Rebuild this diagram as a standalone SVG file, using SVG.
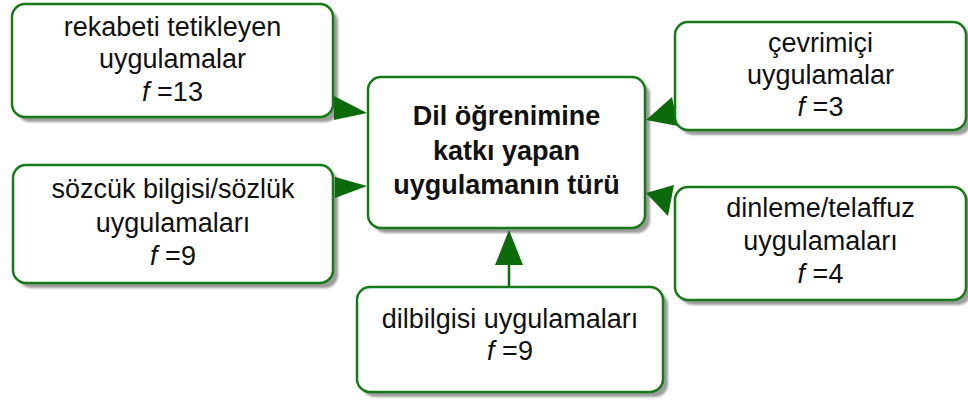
<svg xmlns="http://www.w3.org/2000/svg" width="968" height="403" viewBox="0 0 968 403">
  <defs>
    <filter id="soft" x="-5%" y="-5%" width="110%" height="110%">
      <feGaussianBlur stdDeviation="0.8"/>
    </filter>
  </defs>
  <style>
    .shadow { fill: #9c9c9c; filter: url(#soft); }
    .box { fill: #ffffff; stroke: #167a16; stroke-width: 2.5; }
    .lbl { font-family: "Liberation Sans", Arial, sans-serif; font-size: 27px; fill: #111111; text-anchor: middle; }
    .main { font-weight: bold; }
    .it { font-style: italic; }
    .head { fill: #0b6b0b; }
    .line { stroke: #0b6b0b; stroke-width: 2.5; fill: none; }
  </style>

  <!-- drop shadows sit beneath everything -->
  <g id="shadows">
    <rect class="shadow" x="17" y="9" width="321" height="113" rx="13"/>
    <rect class="shadow" x="18" y="170" width="320" height="118" rx="13"/>
    <rect class="shadow" x="373" y="82" width="277" height="151" rx="13"/>
    <rect class="shadow" x="680" y="27" width="291" height="108" rx="13"/>
    <rect class="shadow" x="680" y="192" width="291" height="113" rx="13"/>
    <rect class="shadow" x="362" y="292" width="306" height="105" rx="13"/>
  </g>

  <!-- connectors: every outer box points into the central box -->
  <g id="connectors">
    <polygon class="head" points="334,96 367,113 334,120"/>
    <polygon class="head" points="335,177 367,186 335,198"/>
    <polygon class="head" points="646,120 672,97 678,126"/>
    <polygon class="head" points="646,193 674,185 668,216"/>
    <line class="line" x1="509" y1="262" x2="509" y2="288"/>
    <polygon class="head" points="509,230 495,265 523,265"/>
  </g>

  <g id="node-center">
    <rect class="box" x="368" y="77" width="277" height="151" rx="13"/>
    <text class="lbl main" x="506.5" y="125">Dil öğrenimine</text>
    <text class="lbl main" x="506.5" y="160">katkı yapan</text>
    <text class="lbl main" x="506.5" y="194">uygulamanın türü</text>
  </g>

  <g id="node-rekabet">
    <rect class="box" x="12" y="4" width="321" height="113" rx="13"/>
    <text class="lbl" x="172.5" y="36">rekabeti tetikleyen</text>
    <text class="lbl" x="172.5" y="68">uygulamalar</text>
    <text class="lbl" x="172.5" y="101"><tspan class="it">f</tspan> =13</text>
  </g>

  <g id="node-sozcuk">
    <rect class="box" x="13" y="165" width="320" height="118" rx="13"/>
    <text class="lbl" x="173" y="198">sözcük bilgisi/sözlük</text>
    <text class="lbl" x="173" y="232">uygulamaları</text>
    <text class="lbl" x="173" y="265"><tspan class="it">f</tspan> =9</text>
  </g>

  <g id="node-cevrimici">
    <rect class="box" x="675" y="22" width="291" height="108" rx="13"/>
    <text class="lbl" x="820.5" y="52">çevrimiçi</text>
    <text class="lbl" x="820.5" y="84">uygulamalar</text>
    <text class="lbl" x="820.5" y="116"><tspan class="it">f</tspan> =3</text>
  </g>

  <g id="node-dinleme">
    <rect class="box" x="675" y="187" width="291" height="113" rx="13"/>
    <text class="lbl" x="820.5" y="217">dinleme/telaffuz</text>
    <text class="lbl" x="820.5" y="250">uygulamaları</text>
    <text class="lbl" x="820.5" y="283"><tspan class="it">f</tspan> =4</text>
  </g>

  <g id="node-dilbilgisi">
    <rect class="box" x="357" y="287" width="306" height="105" rx="13"/>
    <text class="lbl" x="510" y="328">dilbilgisi uygulamaları</text>
    <text class="lbl" x="510" y="360"><tspan class="it">f</tspan> =9</text>
  </g>
</svg>
